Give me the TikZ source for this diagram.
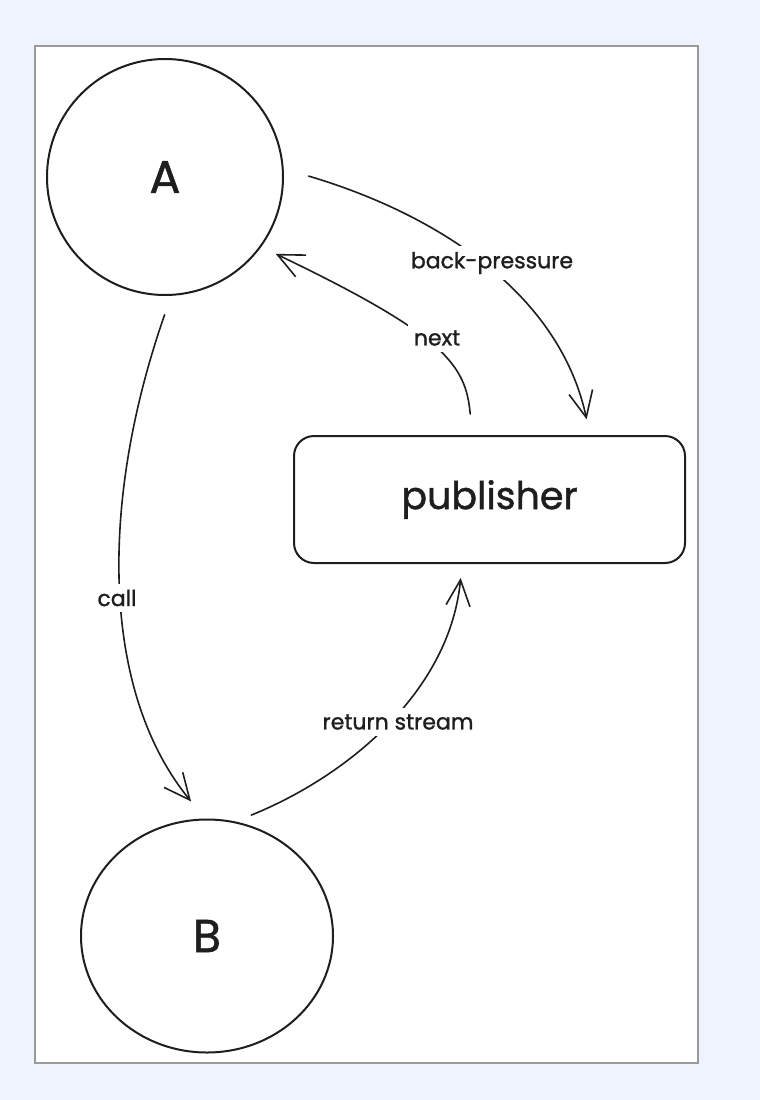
\documentclass[tikz,border=0pt]{standalone}
\usepackage{fontspec}
\setmainfont{Poppins}[FakeBold=1.2]
\usetikzlibrary{arrows.meta,shapes.geometric,calc}
\definecolor{bgblue}{HTML}{EFF3FE}
\definecolor{ink}{HTML}{1E1E1E}
\definecolor{framegray}{HTML}{9A9A9A}
\begin{document}
\begin{tikzpicture}[x=1pt,y=-1pt,
  shapeline/.style={draw=ink,line width=2pt,text=ink},
  conn/.style={draw=ink,line width=1.6pt,line cap=round,-{Straight Barb[length=26pt,width=24pt,line width=1.6pt]}},
  lbl/.style={fill=white,inner sep=6pt,text=ink,font=\fontsize{22}{26}\selectfont}]
\fill[bgblue] (0,0) rectangle (760,1100);
\useasboundingbox (0,0) rectangle (760,1100);
\draw[framegray,fill=white,line width=1.6pt] (35,46) rectangle (698,1063);
% nodes
\node[circle,shapeline,minimum size=236pt,inner sep=0pt,font=\fontsize{46}{50}\selectfont] (A) at (165,177) {A};
\node[ellipse,shapeline,minimum width=252pt,minimum height=233pt,inner sep=0pt,font=\fontsize{46}{50}\selectfont] (B) at (207,936) {B};
\node[rectangle,rounded corners=20pt,shapeline,minimum width=391pt,minimum height=127pt,inner sep=0pt,font=\fontsize{38}{44}\selectfont] (P) at (489.5,499.5) {publisher};
% connectors
\draw[conn,shorten <=26pt,shorten >=16pt] (A.4) .. controls (440,215) and (560,295) .. ($(P.north)+(100.5,0)$);
\draw[conn,shorten <=21pt,shorten >=16pt] ($(P.north)+(-17.5,0)$) .. controls (466,365) and (445,335) .. (A.-36.5);
\draw[conn,shorten <=20pt,shorten >=22pt] (A.-87) .. controls (100,500) and (100,690) .. ($(B.north)+(-2,0)$);
\draw[conn,shorten <=17pt,shorten >=14pt] (B.76) .. controls (350,775) and (450,690) .. ($(P.south)+(-27.5,0)$);
% labels
\node[lbl] (lbp) at (492,263) {back-pressure};
\node[lbl] (lnext) at (437,338) {next};
\node[lbl] (lcall) at (117,598) {call};
\node[lbl] (lret) at (398,722) {return stream};
\end{tikzpicture}
\end{document}
